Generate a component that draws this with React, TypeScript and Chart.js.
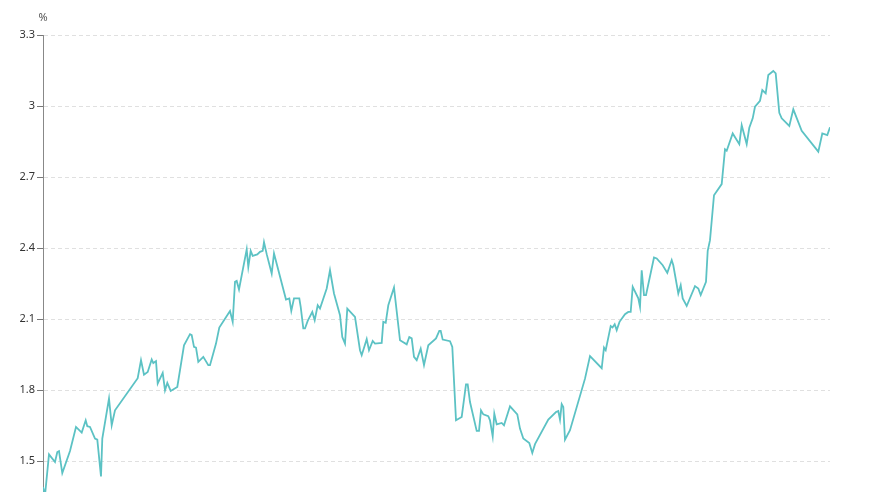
import React, { useEffect, useRef } from "react";
import { Chart, registerables } from "chart.js";

Chart.register(...registerables);

// Day offsets (relative position along the time axis)
const days: number[] = [
  0, 2, 6, 12, 14.3, 16, 19.3, 27, 33, 38.7,
  42.7, 44.3, 47, 52, 54.3, 58, 59.3, 66, 68.7, 72,
  94.7, 98, 101, 104.7, 108.7, 110.3, 113, 114.7, 119.7, 122,
  124.3, 127.7, 134.3, 141, 147, 148.7, 151, 153, 155.3, 160.3,
  165.3, 167, 173, 176.3, 187, 189.7, 192, 193.7, 196, 203.7,
  205.3, 207.7, 209.7, 214.3, 217, 219.7, 221, 223.7, 228.7, 231,
  243, 246.3, 248.3, 251, 256.3, 257.7, 260.3, 262, 264.7, 269.3,
  271.7, 274.7, 277, 283.7, 287, 291, 297, 299.3, 302, 304.3,
  312, 317, 318.7, 323.7, 326, 329.7, 332, 338.7, 340.3, 342.7,
  345.3, 351, 357, 363.7, 366.3, 368.7, 371, 373.7, 377.7, 381,
  385.3, 393, 396.3, 397.7, 399.7, 407, 409.3, 413, 418.7, 423,
  424.7, 427, 433.7, 436, 438, 440.3, 445.3, 447, 449.7, 451.3,
  453.7, 458.7, 461, 467, 474.3, 477, 480.3, 486.3, 489.3, 492,
  505.3, 513, 515.3, 517, 518.7, 520.3, 522, 527, 542, 547,
  558.7, 561, 562.7, 567.7, 569.5, 571.7, 573.7, 576.5, 582, 585.3,
  587.7, 589.7, 595.3, 597, 598.7, 601, 603, 611, 613.7, 619.7,
  624.3, 628.7, 630.3, 635.3, 637.7, 639.7, 643.7, 652, 655.3, 657.7,
  663, 664.7, 667, 671, 678.7, 682, 683.7, 689.7, 696.3, 698.7,
  703.7, 706.3, 709.7, 712, 717, 719.3, 722.7, 725.3, 730.3, 732.7,
  736.3, 738.7, 746.3, 750.3, 758.7, 775.3, 779.3, 784.3, 787,
];

// Yield values (%)
const yields: number[] = [
  1.39, 1.355, 1.528, 1.496, 1.538, 1.542, 1.449, 1.542, 1.644, 1.62,
  1.672, 1.647, 1.644, 1.595, 1.59, 1.435, 1.595, 1.764, 1.651, 1.714,
  1.85, 1.926, 1.865, 1.876, 1.929, 1.914, 1.922, 1.827, 1.872, 1.799,
  1.83, 1.796, 1.813, 1.989, 2.036, 2.032, 1.982, 1.979, 1.919, 1.94,
  1.905, 1.905, 1.996, 2.064, 2.134, 2.088, 2.257, 2.261, 2.225, 2.394,
  2.32, 2.388, 2.367, 2.373, 2.384, 2.388, 2.425, 2.374, 2.292, 2.377,
  2.182, 2.187, 2.134, 2.187, 2.187, 2.151, 2.06, 2.06, 2.092, 2.13,
  2.095, 2.158, 2.144, 2.229, 2.306, 2.208, 2.116, 2.024, 1.996, 2.144,
  2.109, 1.968, 1.947, 2.015, 1.968, 2.007, 1.996, 1.999, 2.088, 2.084,
  2.158, 2.233, 2.01, 1.993, 2.024, 2.018, 1.94, 1.926, 1.975, 1.905,
  1.989, 2.018, 2.05, 2.05, 2.013, 2.006, 1.982, 1.672, 1.686, 1.824,
  1.824, 1.749, 1.627, 1.627, 1.714, 1.697, 1.689, 1.672, 1.604, 1.7,
  1.655, 1.661, 1.651, 1.731, 1.697, 1.637, 1.595, 1.576, 1.534, 1.571,
  1.675, 1.707, 1.711, 1.675, 1.74, 1.728, 1.59, 1.63, 1.848, 1.943,
  1.892, 1.979, 1.968, 2.07, 2.064, 2.078, 2.053, 2.088, 2.12, 2.13,
  2.13, 2.236, 2.187, 2.151, 2.306, 2.201, 2.201, 2.36, 2.356, 2.327,
  2.295, 2.349, 2.327, 2.208, 2.243, 2.187, 2.155, 2.239, 2.229, 2.201,
  2.257, 2.388, 2.433, 2.623, 2.67, 2.817, 2.811, 2.884, 2.839, 2.919,
  2.839, 2.908, 2.948, 2.997, 3.022, 3.067, 3.053, 3.131, 3.148, 3.138,
  2.971, 2.948, 2.916, 2.986, 2.895, 2.807, 2.884, 2.877, 2.91,
];

const unitLabel = "%";
const yMin = 1.2;
const yMax = 3.3;
const yStep = 0.3;

export default function App() {
  const ref = useRef<HTMLCanvasElement | null>(null);

  useEffect(() => {
    if (!ref.current) return;
    const unitPlugin = {
      id: "unitLabel",
      afterDraw(chart: any) {
        const { ctx, chartArea } = chart;
        ctx.save();
        ctx.font = "11px 'Noto Sans', sans-serif";
        ctx.fillStyle = "#555";
        ctx.textAlign = "center";
        ctx.textBaseline = "middle";
        ctx.fillText(unitLabel, chartArea.left, chartArea.top - 17);
        ctx.restore();
      },
    };
    const chart = new Chart(ref.current, {
      type: "line",
      data: {
        datasets: [
          {
            data: days.map((d, i) => ({ x: d, y: yields[i] })),
            borderColor: "#5cc2c4",
            borderWidth: 1.8,
            pointRadius: 0,
            tension: 0,
            fill: false,
          },
        ],
      },
      options: {
        responsive: false,
        animation: false,
        layout: { padding: { top: 35, left: 0, right: 40, bottom: 28 } },
        plugins: { legend: { display: false }, tooltip: { enabled: false } },
        scales: {
          x: { type: "linear", min: 0, max: 787, display: false },
          y: {
            min: yMin,
            max: yMax,
            afterFit: (scale: any) => {
              scale.width = 43;
            },
            ticks: {
              stepSize: yStep,
              padding: 2,
              color: "#333",
              font: { size: 11, family: "'Noto Sans', sans-serif" },
              callback: (v: any) => String(Number(Number(v).toFixed(1))),
            },
            grid: {
              color: "#e0e0e0",
              tickColor: "#777",
              tickLength: 6,
              lineWidth: 1,
            },
            border: { display: true, color: "#888", width: 1, dash: [4, 3] },
          },
        },
      },
      plugins: [unitPlugin],
    });
    return () => chart.destroy();
  }, []);

  return (
    <div style={{ position: "absolute", left: 0, top: 0, width: 870, height: 560 }}>
      <canvas ref={ref} width={870} height={560} style={{ width: 870, height: 560 }} />
    </div>
  );
}
